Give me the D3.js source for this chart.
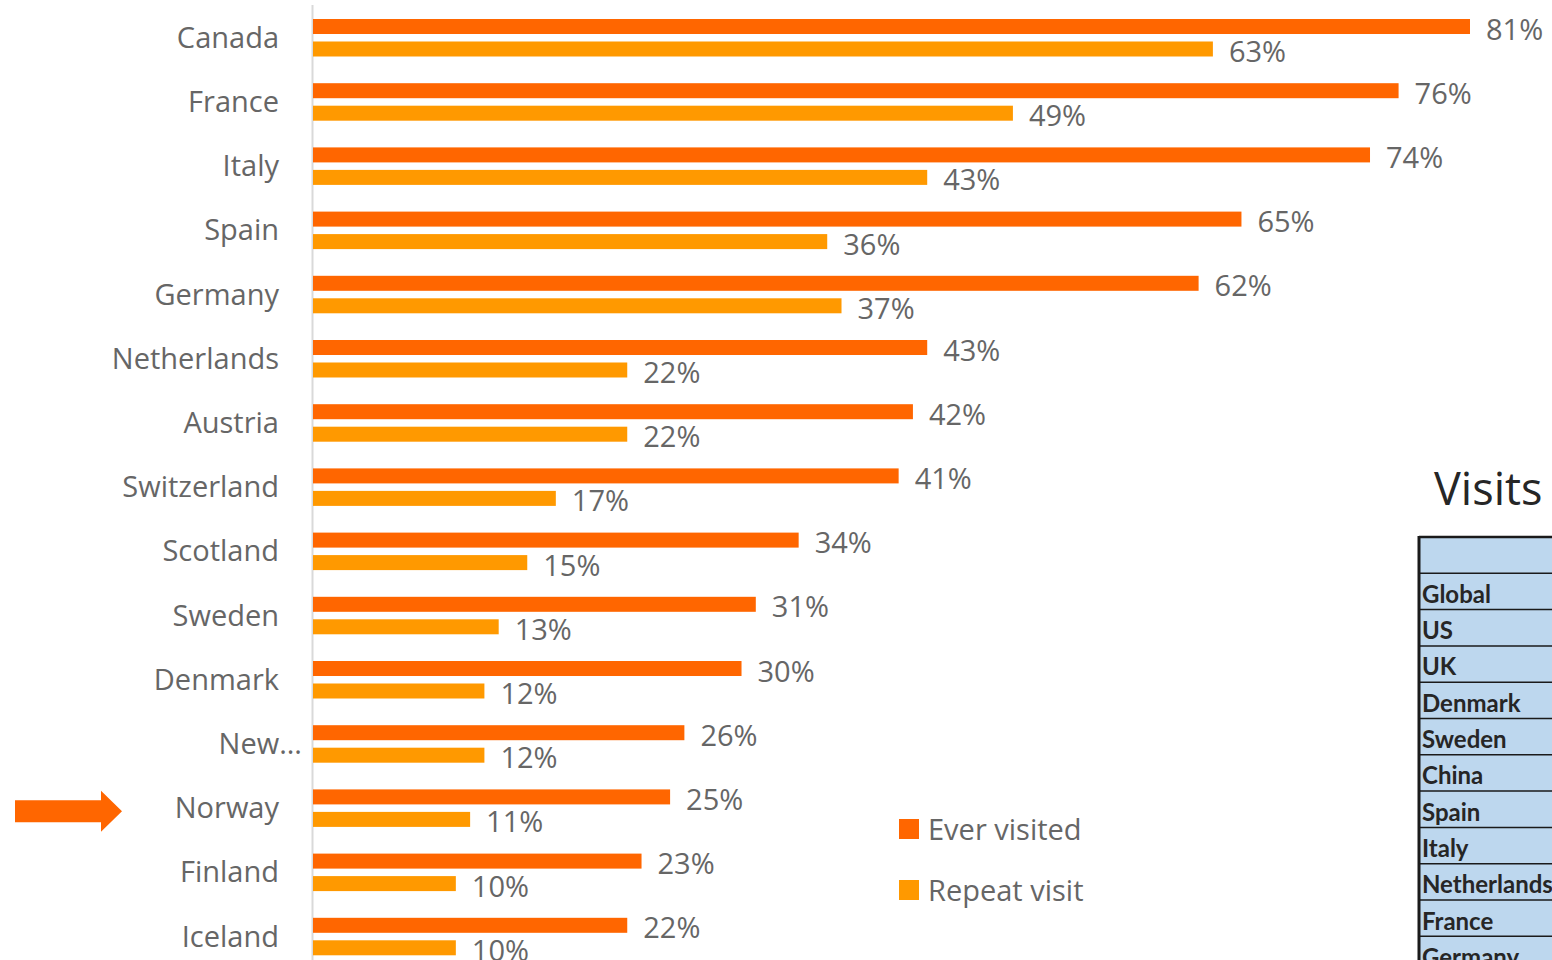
<!DOCTYPE html>
<html>
<head>
<meta charset="utf-8">
<script src="https://cdn.jsdelivr.net/npm/d3@7"></script>
<style>
  body { margin: 0; background: #fff; }
  svg { display: block; }
</style>
</head>
<body>
<svg id="chart" width="1552" height="960"></svg>
<script>
// Share of respondents who have visited each country
const countries = ["Canada", "France", "Italy", "Spain", "Germany", "Netherlands", "Austria",
  "Switzerland", "Scotland", "Sweden", "Denmark", "New Zealand", "Norway", "Finland", "Iceland"];
const everVisited = [81, 76, 74, 65, 62, 43, 42, 41, 34, 31, 30, 26, 25, 23, 22];
const repeatVisit = [63, 49, 43, 36, 37, 22, 22, 17, 15, 13, 12, 12, 11, 10, 10];
const seriesNames = ["Ever visited", "Repeat visit"];
const highlighted = "Norway";

// Side table
const tableTitle = "Visits";
const tableRows = ["Global", "US", "UK", "Denmark", "Sweden", "China", "Spain", "Italy",
  "Netherlands", "France", "Germany"];

const colors = { "Ever visited": "#FF6600", "Repeat visit": "#FF9900" };
const textColor = "#666666";
const font = "'Open Sans', 'Noto Sans', sans-serif";

const svg = d3.select("#chart");

const axisX = 313;
const x = d3.scaleLinear()
  .domain([0, d3.max(everVisited)])
  .range([axisX, 1470]);

const y = d3.scaleBand()
  .domain(countries)
  .range([5.65, 5.65 + 64.2 * countries.length])
  .paddingInner(0.416)
  .paddingOuter(0.208);

const sub = d3.scaleBand()
  .domain(seriesNames)
  .range([0, y.bandwidth()])
  .paddingInner(0.333);

const rows = countries.map((c, i) => ({
  country: c,
  values: [
    { series: "Ever visited", value: everVisited[i] },
    { series: "Repeat visit", value: repeatVisit[i] }
  ]
}));

// Category axis line
svg.append("line")
  .attr("x1", axisX - 0.5).attr("x2", axisX - 0.5)
  .attr("y1", 5).attr("y2", 960)
  .attr("stroke", "#d9d9d9").attr("stroke-width", 2);

const groups = svg.selectAll("g.country")
  .data(rows)
  .join("g")
  .attr("class", "country")
  .attr("transform", d => `translate(0,${y(d.country)})`);

groups.selectAll("rect")
  .data(d => d.values)
  .join("rect")
  .attr("x", x(0))
  .attr("y", d => sub(d.series))
  .attr("width", d => x(d.value) - x(0))
  .attr("height", sub.bandwidth())
  .attr("fill", d => colors[d.series]);

groups.selectAll("text.value")
  .data(d => d.values)
  .join("text")
  .attr("class", "value")
  .attr("x", d => x(d.value) + 16)
  .attr("y", d => sub(d.series) + sub.bandwidth() / 2 + 13)
  .attr("font-family", font)
  .attr("font-size", 29)
  .attr("fill", textColor)
  .text(d => d.value + "%");

// Category labels; long multi-word names are cut short
const shortLabel = c => (c.length > 11 || (c.includes(" ") && c.length > 10)) ? c.split(" ")[0] + "..." : c;
groups.append("text")
  .attr("x", d => shortLabel(d.country) !== d.country ? axisX - 11 : axisX - 34)
  .attr("y", y.bandwidth() / 2 + 10)
  .attr("text-anchor", "end")
  .attr("font-family", font)
  .attr("font-size", 29)
  .attr("fill", textColor)
  .text(d => shortLabel(d.country));

// Arrow pointing at the highlighted country
const cy = y(highlighted) + y.bandwidth() / 2 + 3;
svg.append("path")
  .attr("d", `M15,${cy - 11} L101,${cy - 11} L101,${cy - 20.5} L122,${cy} L101,${cy + 20.5} L101,${cy + 11} L15,${cy + 11} Z`)
  .attr("fill", "#FF6600");

// Legend
const legend = svg.append("g").attr("transform", "translate(899,819)");
const legendItems = legend.selectAll("g")
  .data(seriesNames)
  .join("g")
  .attr("transform", (d, i) => `translate(0,${i * 61})`);
legendItems.append("rect")
  .attr("width", 20).attr("height", 20)
  .attr("fill", d => colors[d]);
legendItems.append("text")
  .attr("x", 29).attr("y", 21)
  .attr("font-family", font)
  .attr("font-size", 29)
  .attr("fill", textColor)
  .text(d => d);

// Side table
svg.append("text")
  .attr("x", 1434).attr("y", 505)
  .attr("font-family", font)
  .attr("font-size", 45)
  .attr("fill", "#262626")
  .text(tableTitle);

const tableX = 1419, tableTop = 537, headerH = 36.3, rowH = 36.3;
const table = svg.append("g");
table.append("rect")
  .attr("x", tableX).attr("y", tableTop)
  .attr("width", 200).attr("height", 500)
  .attr("fill", "#BDD7EE");
table.append("line")
  .attr("x1", tableX).attr("x2", 1560)
  .attr("y1", tableTop).attr("y2", tableTop)
  .attr("stroke", "#1a1a1a").attr("stroke-width", 2.5);
const tr = table.selectAll("g.row")
  .data(tableRows)
  .join("g")
  .attr("class", "row")
  .attr("transform", (d, i) => `translate(0,${tableTop + headerH + i * rowH})`);
tr.append("line")
  .attr("x1", tableX).attr("x2", 1560)
  .attr("stroke", "#1a1a1a").attr("stroke-width", 1.5);
tr.append("text")
  .attr("x", tableX + 3).attr("y", 29.5)
  .attr("font-family", "Lato, 'Liberation Sans', sans-serif")
  .attr("font-weight", "bold")
  .attr("font-size", 24)
  .attr("fill", "#262626")
  .text(d => d);
table.append("line")
  .attr("x1", tableX).attr("x2", tableX)
  .attr("y1", tableTop - 1).attr("y2", 960)
  .attr("stroke", "#1a1a1a").attr("stroke-width", 3);
</script>
</body>
</html>
